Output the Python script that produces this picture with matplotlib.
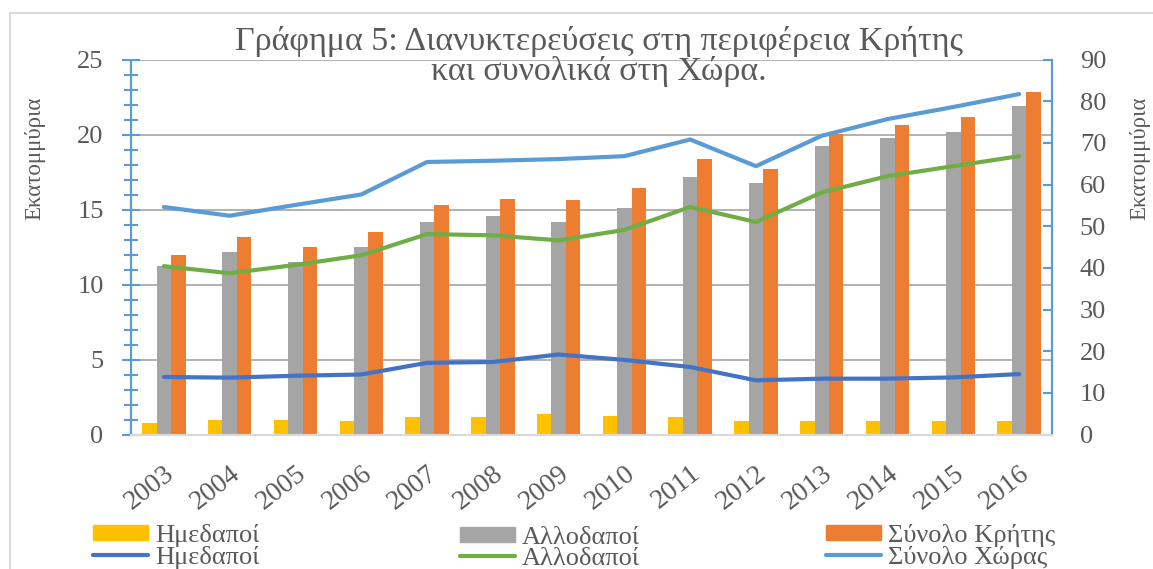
import matplotlib.pyplot as plt
import numpy as np
from matplotlib.patches import Rectangle, Patch
from matplotlib.lines import Line2D

plt.rcParams['font.family'] = ['Liberation Serif', 'DejaVu Serif']

#data (millions of overnight stays)
years = ['2003', '2004', '2005', '2006', '2007', '2008', '2009',
         '2010', '2011', '2012', '2013', '2014', '2015', '2016']
crete_domestic = [0.8, 1.0, 1.0, 0.92, 1.15, 1.15, 1.4, 1.25, 1.15, 0.9, 0.9, 0.9, 0.9, 0.93]
crete_foreign = [11.22, 12.18, 11.51, 12.53, 14.15, 14.58, 14.15, 15.12, 17.14, 16.79, 19.21, 19.75, 20.17, 21.91]
crete_total = [12.0, 13.18, 12.49, 13.47, 15.31, 15.73, 15.62, 16.41, 18.37, 17.70, 20.05, 20.61, 21.17, 22.84]
country_domestic = [13.8, 13.65, 14.1, 14.4, 17.2, 17.4, 19.2, 17.9, 16.2, 13.0, 13.4, 13.4, 13.7, 14.5]
country_foreign = [40.4, 38.7, 40.7, 43.0, 48.1, 47.8, 46.6, 49.1, 54.6, 51.0, 58.1, 62.0, 64.4, 66.8]
country_total = [54.6, 52.5, 55.1, 57.6, 65.4, 65.7, 66.1, 66.8, 70.8, 64.4, 71.7, 75.7, 78.6, 81.7]

label_domestic = 'Ημεδαποί'
label_foreign = 'Αλλοδαποί'
label_crete = 'Σύνολο Κρήτης'
label_country = 'Σύνολο Χώρας'

#office colors
yellow = '#FFC000'
gray = '#A5A5A5'
orange = '#ED7D31'
dark_blue = '#4472C4'
green = '#70AD47'
light_blue = '#5B9BD5'
text_color = '#595959'

W, H = 1153, 569
fig = plt.figure(figsize=(W / 100, H / 100), dpi=100)
ax = fig.add_axes([131 / W, 1 - 434.5 / H, (1052 - 131) / W, (434.5 - 59.5) / H])
ax2 = ax.twinx()

x = np.arange(len(years))
bar_width = 0.22
ax.bar(x - bar_width, crete_domestic, bar_width, color=yellow, zorder=2)
ax.bar(x, crete_foreign, bar_width, color=gray, zorder=2)
ax.bar(x + bar_width, crete_total, bar_width, color=orange, zorder=2)

ax2.plot(x, country_domestic, color=dark_blue, lw=3, solid_capstyle='round', solid_joinstyle='round')
ax2.plot(x, country_foreign, color=green, lw=3, solid_capstyle='round', solid_joinstyle='round')
ax2.plot(x, country_total, color=light_blue, lw=3, solid_capstyle='round', solid_joinstyle='round')

ax.set_xlim(-0.5, len(years) - 0.5)
ax.set_ylim(0, 25)
ax2.set_ylim(0, 90)
ax.set_yticks(np.arange(0, 26, 5))
ax.set_yticks(np.arange(0, 26, 1), minor=True)
ax2.set_yticks(np.arange(0, 91, 10))

ax.grid(axis='y', color='#ABABAB', lw=1.3, zorder=0)
ax.set_axisbelow(True)

for a in (ax, ax2):
    a.spines['top'].set_visible(False)
    a.spines['left'].set_color(light_blue)
    a.spines['left'].set_linewidth(1.5)
    a.spines['right'].set_color(light_blue)
    a.spines['right'].set_linewidth(1.5)
    a.spines['bottom'].set_color('#D9D9D9')
    a.spines['bottom'].set_linewidth(1.5)

ax.tick_params(axis='y', which='major', direction='inout', length=13.5, width=1.5,
               color=light_blue, pad=13, labelsize=19, labelcolor=text_color)
ax.tick_params(axis='y', which='minor', direction='inout', length=10, width=1.5, color=light_blue)
ax2.tick_params(axis='y', direction='in', length=6.5, width=1.5, color=light_blue,
                pad=20, labelsize=19, labelcolor=text_color)
ax.set_xticks(x)
ax.set_xticklabels(years, rotation=38, ha='right', va='top', rotation_mode='anchor')
ax.tick_params(axis='x', length=0, pad=19, labelsize=20, labelcolor=text_color)

#axis titles
fig.text(35 / W, 1 - 158 / H, 'Εκατομμύρια', rotation=90, ha='center', va='center',
         fontsize=16.5, color=text_color)
fig.text(1140 / W, 1 - 158 / H, 'Εκατομμύρια', rotation=90, ha='center', va='center',
         fontsize=16.5, color=text_color)

#chart title
fig.text(599 / W, 1 - 50 / H, 'Γράφημα 5: Διανυκτερεύσεις στη περιφέρεια Κρήτης',
         ha='center', va='baseline', fontsize=24.5, color=text_color)
fig.text(599 / W, 1 - 80 / H, 'και συνολικά στη Χώρα.',
         ha='center', va='baseline', fontsize=24.5, color=text_color)

#legend in three columns (left edge, top edge in pixels)
legend_columns = [
    (93, 524, [Patch(color=yellow), Line2D([], [], color=dark_blue, lw=3, solid_capstyle='round')],
     [label_domestic, label_domestic]),
    (460, 527, [Patch(color=gray), Line2D([], [], color=green, lw=3, solid_capstyle='round')],
     [label_foreign, label_foreign]),
    (826, 524, [Patch(color=orange), Line2D([], [], color=light_blue, lw=3, solid_capstyle='round')],
     [label_crete, label_country]),
]
for left, top, handles, labels in legend_columns:
    fig.legend(handles, labels, loc='upper left', bbox_to_anchor=(left / W, 1 - top / H),
               frameon=False, fontsize=19, labelcolor=text_color, handlelength=2.1,
               handleheight=0.5, handletextpad=0.25, labelspacing=-0.05, borderpad=0,
               borderaxespad=0)

#outer chart border
fig.add_artist(Rectangle((10 / W, -0.1), 1.2, 1 - 13 / H + 0.1, transform=fig.transFigure,
                         fill=False, edgecolor='#D9D9D9', lw=1.5))

fig.savefig('out.png', dpi=100)
